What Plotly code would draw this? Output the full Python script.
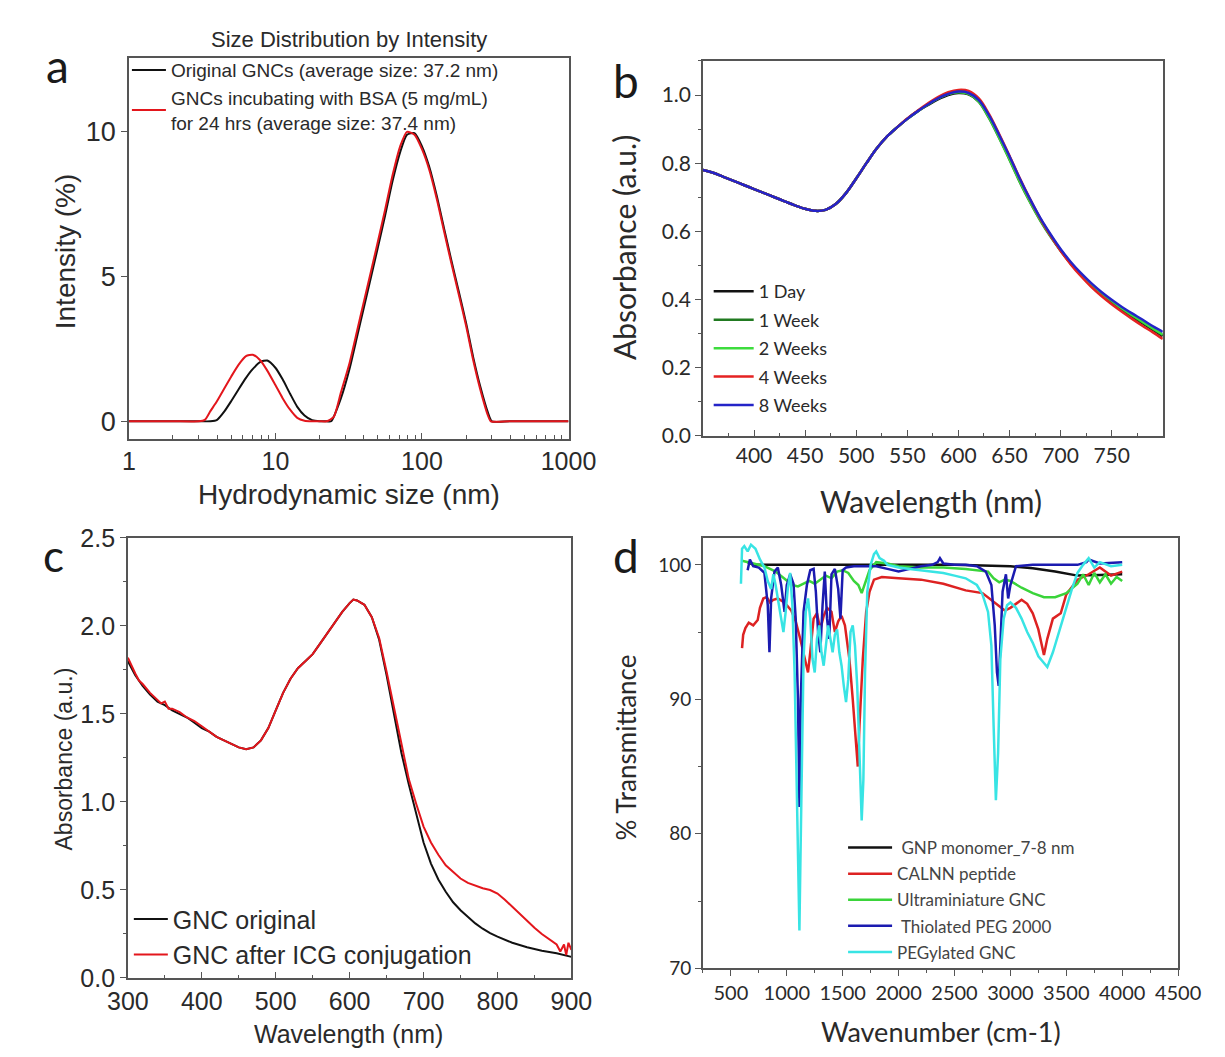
import plotly.graph_objects as go

W, H = 1225, 1057

# ---- panel a : DLS size distribution ----
size_black = [1, 2, 3, 3.6, 4, 4.5, 5, 5.6, 6.3, 7, 7.9, 8.8, 10, 11.2, 12.6, 14.1, 15.8, 17.8, 20,
              22.4, 24, 28, 32, 36, 40, 45, 50, 56, 63, 71, 79, 89, 100, 112, 126, 141, 158, 178,
              200, 224, 250, 282, 300, 400, 1000]
int_black = [0, 0, 0, 0, 0.05, 0.35, 0.7, 1.1, 1.5, 1.8, 2.05, 2.1, 1.85, 1.45, 0.95, 0.5, 0.2, 0.04, 0,
             0, 0, 0.8, 1.8, 2.9, 3.9, 5.0, 6.0, 7.1, 8.3, 9.3, 9.9, 9.95, 9.5, 8.8, 7.8, 6.7, 5.6, 4.5,
             3.4, 2.2, 1.2, 0.3, 0, 0, 0]
size_red = [1, 2, 3, 3.3, 3.6, 4, 4.5, 5, 5.6, 6.3, 7, 7.9, 8.8, 10, 11.2, 12.6, 14.1, 15.8, 17.8,
            20, 22.4, 25, 28, 32, 36, 40, 45, 50, 56, 63, 71, 79, 89, 100, 112, 126, 141, 158, 178,
            200, 224, 250, 282, 295, 400, 1000]
int_red = [0, 0, 0, 0.05, 0.35, 0.7, 1.15, 1.55, 1.95, 2.25, 2.3, 2.1, 1.75, 1.25, 0.8, 0.4, 0.12, 0.02, 0,
           0, 0, 0.15, 1.0, 2.0, 3.1, 4.1, 5.2, 6.2, 7.3, 8.5, 9.5, 10.0, 9.9, 9.4, 8.7, 7.7, 6.6, 5.5, 4.4,
           3.3, 2.1, 1.1, 0.2, 0, 0, 0]
size_ticks = [1, 10, 100, 1000]
size_minor = [2, 3, 4, 5, 6, 7, 8, 9, 20, 30, 40, 50, 60, 70, 80, 90, 200, 300, 400, 500, 600, 700, 800, 900]

# ---- panel b : stability UV-vis ----
wl_b = [350, 360, 370, 380, 390, 400, 410, 420, 430, 440, 450, 460, 470, 480, 490, 500, 510, 520, 530,
        540, 550, 560, 570, 580, 590, 600, 610, 620, 630, 640, 650, 660, 670, 680, 690, 700, 710, 720,
        730, 740, 750, 760, 770, 780, 790, 800]
abs_1day = [0.780, 0.772, 0.760, 0.748, 0.736, 0.724, 0.712, 0.700, 0.688, 0.676, 0.666, 0.660, 0.663,
            0.680, 0.712, 0.755, 0.800, 0.843, 0.878, 0.905, 0.930, 0.952, 0.970, 0.987, 1.000, 1.006,
            1.002, 0.982, 0.937, 0.880, 0.818, 0.752, 0.692, 0.637, 0.589, 0.545, 0.506, 0.472, 0.442,
            0.415, 0.391, 0.369, 0.349, 0.330, 0.311, 0.292]
abs_1week = [0.780, 0.772, 0.760, 0.748, 0.736, 0.724, 0.712, 0.700, 0.688, 0.676, 0.666, 0.660, 0.663,
             0.680, 0.712, 0.755, 0.800, 0.843, 0.878, 0.905, 0.930, 0.952, 0.972, 0.990, 1.003, 1.008,
             1.003, 0.980, 0.932, 0.873, 0.810, 0.745, 0.686, 0.632, 0.585, 0.543, 0.505, 0.472, 0.443,
             0.417, 0.394, 0.372, 0.352, 0.333, 0.314, 0.295]
abs_2weeks = [0.780, 0.772, 0.760, 0.748, 0.736, 0.724, 0.712, 0.700, 0.688, 0.676, 0.666, 0.660, 0.663,
              0.680, 0.712, 0.755, 0.800, 0.843, 0.878, 0.905, 0.930, 0.952, 0.972, 0.990, 1.003, 1.009,
              1.004, 0.981, 0.934, 0.875, 0.812, 0.747, 0.688, 0.634, 0.587, 0.545, 0.507, 0.474, 0.445,
              0.419, 0.396, 0.374, 0.354, 0.335, 0.316, 0.297]
abs_4weeks = [0.780, 0.772, 0.760, 0.748, 0.736, 0.724, 0.712, 0.700, 0.688, 0.676, 0.666, 0.660, 0.663,
              0.680, 0.712, 0.755, 0.800, 0.843, 0.878, 0.905, 0.931, 0.954, 0.975, 0.994, 1.008, 1.015,
              1.012, 0.990, 0.944, 0.885, 0.822, 0.756, 0.695, 0.638, 0.588, 0.543, 0.503, 0.468, 0.437,
              0.410, 0.386, 0.364, 0.343, 0.323, 0.304, 0.284]
abs_8weeks = [0.780, 0.772, 0.760, 0.748, 0.736, 0.724, 0.712, 0.700, 0.688, 0.676, 0.666, 0.660, 0.663,
              0.680, 0.712, 0.755, 0.800, 0.843, 0.878, 0.905, 0.930, 0.952, 0.972, 0.990, 1.003, 1.010,
              1.006, 0.985, 0.940, 0.882, 0.820, 0.755, 0.695, 0.640, 0.592, 0.548, 0.510, 0.477, 0.448,
              0.422, 0.399, 0.378, 0.359, 0.341, 0.322, 0.305]

# ---- panel c : ICG conjugation UV-vis ----
wl_c_black = [300, 305, 310, 320, 330, 340, 350, 360, 370, 380, 390, 400, 410, 420, 430, 440, 450, 460,
              470, 480, 490, 500, 510, 520, 530, 540, 550, 560, 570, 580, 590, 600, 605, 610, 620, 630,
              640, 650, 660, 670, 680, 690, 700, 710, 720, 730, 740, 750, 760, 770, 780, 790, 800, 820,
              840, 860, 880, 890, 900]
abs_c_black = [1.80, 1.76, 1.72, 1.66, 1.61, 1.57, 1.55, 1.52, 1.50, 1.48, 1.45, 1.42, 1.40, 1.37, 1.35,
               1.33, 1.31, 1.30, 1.31, 1.35, 1.42, 1.52, 1.62, 1.70, 1.76, 1.80, 1.84, 1.90, 1.96, 2.02,
               2.08, 2.13, 2.15, 2.145, 2.12, 2.05, 1.92, 1.72, 1.50, 1.28, 1.10, 0.93, 0.77, 0.65, 0.56,
               0.49, 0.43, 0.385, 0.345, 0.31, 0.28, 0.255, 0.235, 0.20, 0.175, 0.155, 0.14, 0.13, 0.12]
wl_c_red = [300, 305, 310, 315, 320, 330, 340, 345, 350, 355, 360, 370, 380, 390, 400, 410, 420, 430,
            440, 450, 460, 470, 480, 490, 500, 510, 520, 530, 540, 550, 560, 570, 580, 590, 600, 605,
            610, 620, 630, 640, 650, 660, 670, 680, 690, 700, 710, 720, 730, 740, 750, 760, 770, 780,
            790, 800, 810, 820, 830, 840, 850, 860, 870, 875, 880, 885, 890, 893, 896, 900]
abs_c_red = [1.82, 1.77, 1.73, 1.69, 1.67, 1.62, 1.58, 1.56, 1.57, 1.53, 1.53, 1.51, 1.48, 1.46, 1.43,
             1.40, 1.37, 1.35, 1.33, 1.31, 1.30, 1.31, 1.35, 1.42, 1.52, 1.62, 1.70, 1.76, 1.80, 1.84,
             1.90, 1.96, 2.02, 2.08, 2.13, 2.15, 2.145, 2.12, 2.05, 1.93, 1.74, 1.53, 1.32, 1.13, 0.99,
             0.86, 0.77, 0.70, 0.64, 0.60, 0.565, 0.54, 0.525, 0.51, 0.50, 0.48, 0.445, 0.405, 0.365,
             0.32, 0.285, 0.25, 0.22, 0.20, 0.19, 0.15, 0.19, 0.13, 0.20, 0.16]

# ---- panel d : FTIR ----
wn_black = [650, 700, 1000, 1500, 2000, 2500, 3000, 3200, 3400, 3600, 3800, 4000]
tr_black = [100.2, 100, 100, 100, 100, 100, 99.9, 99.75, 99.5, 99.2, 99.25, 99.3]
wn_red = [600, 610, 630, 660, 700, 740, 760, 790, 820, 850, 880, 920, 960, 1000, 1040, 1080, 1120, 1160,
          1190, 1210, 1240, 1270, 1300, 1330, 1360, 1400, 1430, 1460, 1490, 1520, 1560, 1590, 1620, 1635,
          1650, 1680, 1710, 1740, 1780, 1850, 2000, 2200, 2400, 2600, 2750, 2900, 2950, 3000, 3100, 3150,
          3200, 3250, 3300, 3330, 3380, 3450, 3500, 3600, 3700, 3800, 3900, 4000]
tr_red = [93.8, 94.8, 95.3, 95.7, 95.5, 95.9, 96.8, 97.5, 97.6, 97.2, 97.4, 97.5, 97.3, 97.0, 96.6, 95.8,
          94.5, 93.0, 92.0, 93.5, 96.0, 96.4, 95.2, 96.2, 96.8, 96.5, 95.0, 95.8, 96.2, 95.5, 93.0, 90.0,
          86.5, 85.0, 88.0, 93.0, 96.5, 98.0, 98.9, 99.1, 99.0, 98.9, 98.6, 98.1, 97.9, 96.9, 96.6, 96.8,
          97.4, 97.1, 96.4, 95.2, 93.3, 94.5, 96.0, 96.4, 97.8, 98.9, 99.3, 99.8, 99.2, 99.5]
wn_green = [600, 700, 800, 900, 1000, 1050, 1100, 1150, 1200, 1250, 1300, 1350, 1400, 1450, 1500, 1550,
            1600, 1640, 1670, 1700, 1740, 1800, 1900, 2000, 2200, 2400, 2600, 2800, 2850, 2900, 2950,
            3000, 3100, 3200, 3300, 3400, 3500, 3600, 3650, 3700, 3750, 3800, 3850, 3900, 3950, 4000]
tr_green = [100.3, 100.1, 99.9, 99.5, 98.8, 98.5, 98.4, 98.6, 98.8, 98.6, 98.9, 99.2, 99.0, 99.5, 99.6,
            99.4, 98.8, 98.5, 97.9, 98.6, 99.6, 100.2, 100.1, 99.9, 99.8, 99.8, 99.7, 99.5, 99.0, 98.7,
            98.9, 98.8, 98.3, 97.9, 97.6, 97.6, 97.9, 98.6, 99.3, 98.5, 99.4, 98.7, 99.3, 98.6, 99.1, 98.8]
wn_blue = [650, 670, 700, 750, 800, 830, 845, 860, 890, 920, 950, 980, 1000, 1030, 1060, 1080, 1100, 1113,
           1125, 1150, 1180, 1210, 1240, 1260, 1280, 1300, 1320, 1340, 1360, 1380, 1400, 1430, 1460, 1480,
           1500, 1530, 1600, 1700, 1800, 1900, 2000, 2100, 2200, 2300, 2350, 2370, 2400, 2500, 2600, 2700,
           2780, 2830, 2860, 2880, 2895, 2910, 2930, 2960, 2980, 3000, 3050, 3200, 3400, 3600, 3680, 3700,
           3800, 4000]
tr_blue = [99.6, 100.4, 99.9, 99.8, 99.4, 97.0, 93.5, 97.5, 99.5, 99.8, 98.5, 96.5, 98.5, 99.3, 98.6, 96.0,
           90.0, 82.0, 90.0, 96.5, 98.5, 99.6, 99.7, 98.0, 95.0, 93.5, 97.0, 99.5, 96.0, 94.5, 99.3, 99.7,
           98.2, 96.0, 99.6, 99.8, 99.9, 99.9, 99.9, 99.7, 99.5, 99.7, 99.9, 100.0, 100.2, 100.5, 100.1,
           100.0, 100.0, 99.9, 99.5, 98.5, 95.5, 92.0, 91.0, 94.0, 98.0, 99.3, 97.5, 98.5, 99.9, 100.0,
           100.0, 100.0, 100.2, 100.4, 100.1, 100.2]
wn_cyan = [590, 600, 620, 650, 680, 720, 760, 800, 830, 860, 880, 900, 930, 950, 970, 990, 1010, 1030, 1050,
           1070, 1090, 1105, 1113, 1122, 1135, 1150, 1170, 1190, 1210, 1230, 1250, 1270, 1290, 1310, 1330,
           1350, 1370, 1390, 1410, 1430, 1450, 1470, 1490, 1510, 1530, 1550, 1570, 1590, 1610, 1630, 1650,
           1670, 1685, 1700, 1720, 1750, 1780, 1800, 1830, 1870, 1900, 2000, 2100, 2200, 2300, 2400, 2500,
           2600, 2700, 2750, 2800, 2830, 2850, 2870, 2890, 2910, 2940, 2970, 3000, 3050, 3100, 3150, 3200,
           3250, 3300, 3330, 3380, 3450, 3500, 3550, 3600, 3650, 3700, 3750, 3800, 3900, 4000]
tr_cyan = [98.6, 101.2, 101.4, 101.0, 101.5, 101.2, 100.4, 99.8, 98.8, 98.2, 99.3, 98.5, 97.0, 96.0, 95.0,
           96.5, 98.3, 99.4, 97.0, 92.0, 84.0, 76.0, 72.8, 78.0, 86.0, 93.0, 96.5, 97.5, 96.0, 93.0, 92.0,
           94.5, 95.5, 93.5, 92.5, 94.0, 95.5, 94.5, 93.5, 94.8, 95.2, 93.5, 92.5, 91.0, 89.8, 91.5, 95.0,
           95.5, 94.0, 91.0, 86.0, 81.0, 84.0, 92.0, 98.0, 100.0, 100.8, 101.0, 100.5, 100.3, 100.0, 99.8,
           99.7, 99.6, 99.5, 99.4, 99.2, 99.0, 98.5, 97.8, 96.5, 94.0, 88.0, 82.5, 86.0, 93.0, 96.0, 97.0,
           97.2, 96.8, 96.0, 95.0, 94.2, 93.2, 92.7, 92.4, 93.5, 95.5, 96.8, 98.2, 99.4, 100.0, 100.5, 99.8,
           100.2, 99.9, 100.0]

ARIAL = "Liberation Sans, Arial, sans-serif"
CALIBRI = "Lato, Open Sans, sans-serif"
AXC = "#555555"
TXT = "#2a2a2a"


def px(x):
    return x / W


def py(y):
    return 1 - y / H


fig = go.Figure()

# panel a
fig.add_trace(go.Scatter(x=size_black, y=int_black, name="Original GNCs (average size: 37.2 nm)",
                         mode="lines", line=dict(color="#111111", width=2, shape="spline", smoothing=0.6),
                         xaxis="x", yaxis="y", legend="legend"))
fig.add_trace(go.Scatter(x=size_red, y=int_red,
                         name="GNCs incubating with BSA (5 mg/mL)<br>for 24 hrs (average size: 37.4 nm)",
                         mode="lines", line=dict(color="#e3161c", width=2, shape="spline", smoothing=0.6),
                         xaxis="x", yaxis="y", legend="legend"))

# panel b
b_series = [("1 Day", abs_1day, "#111111"), ("1 Week", abs_1week, "#217a21"),
            ("2 Weeks", abs_2weeks, "#3ddc3d"), ("4 Weeks", abs_4weeks, "#e52222"),
            ("8 Weeks", abs_8weeks, "#2424c8")]
for i, (nm, vals, col) in enumerate(b_series):
    fig.add_trace(go.Scatter(x=wl_b, y=vals, name=nm, mode="lines",
                             line=dict(color=col, width=2.5, shape="spline"),
                             xaxis="x2", yaxis="y2", legend="legend2", legendgroup="b%d" % i))

# panel c
fig.add_trace(go.Scatter(x=wl_c_black, y=abs_c_black, name="GNC original", mode="lines",
                         line=dict(color="#111111", width=2), xaxis="x3", yaxis="y3", legend="legend3"))
fig.add_trace(go.Scatter(x=wl_c_red, y=abs_c_red, name="GNC after ICG conjugation", mode="lines",
                         line=dict(color="#e3161c", width=2), xaxis="x3", yaxis="y3", legend="legend3"))

# panel d
d_series = [(" GNP monomer_7-8 nm", wn_black, tr_black, "#111111"),
            ("CALNN peptide", wn_red, tr_red, "#dd2222"),
            ("Ultraminiature GNC", wn_green, tr_green, "#3ad43a"),
            (" Thiolated PEG 2000", wn_blue, tr_blue, "#1b1bb0"),
            ("PEGylated GNC", wn_cyan, tr_cyan, "#38e4e4")]
for i, (nm, xs, ys, col) in enumerate(d_series):
    fig.add_trace(go.Scatter(x=xs, y=ys, name=nm, mode="lines",
                             line=dict(color=col, width=2.5),
                             xaxis="x4", yaxis="y4", legend="legend4", legendgroup="d%d" % i))


def axis(dom, anchor, font, size, **kw):
    d = dict(domain=dom, anchor=anchor, showline=True, mirror=True, linecolor=AXC, linewidth=1.5,
             showgrid=False, zeroline=False, ticklen=6, tickwidth=1.2, tickcolor=AXC,
             tickfont=dict(family=font, size=size, color=TXT))
    d.update(kw)
    return d


fig.update_layout(
    width=W, height=H, margin=dict(l=0, r=0, t=0, b=0),
    paper_bgcolor="white", plot_bgcolor="white", showlegend=True,
    xaxis=axis([px(104), px(562)], "y", ARIAL, 25, type="log", range=[0, 3],
               tickvals=size_ticks, ticktext=[str(v) for v in size_ticks], ticks="inside",
               minor=dict(ticks="inside", ticklen=4, tickcolor=AXC, tickvals=size_minor)),
    yaxis=axis([py(428), py(37)], "x", ARIAL, 27, range=[-0.6, 12.55], tickvals=[0, 5, 10],
               ticks="outside"),
    xaxis2=axis([px(702), px(1181)], "y2", CALIBRI, 21, range=[350, 800],
                tickvals=[400, 450, 500, 550, 600, 650, 700, 750], ticks="inside",
                minor=dict(ticks="inside", ticklen=3, tickcolor=AXC, dtick=25)),
    yaxis2=axis([py(425), py(40)], "x2", CALIBRI, 21, range=[0, 1.1], dtick=0.2, tickformat=".1f",
                ticks="outside", minor=dict(ticks="outside", ticklen=3, tickcolor=AXC, dtick=0.1)),
    xaxis3=axis([px(103), px(565)], "y3", ARIAL, 25, range=[300, 900], dtick=100, ticks="inside",
                minor=dict(ticks="inside", ticklen=3, tickcolor=AXC, dtick=50)),
    yaxis3=axis([py(982), py(530)], "x3", ARIAL, 25, range=[0, 2.5], dtick=0.5, tickformat=".1f",
                ticks="outside", minor=dict(ticks="outside", ticklen=3, tickcolor=AXC, dtick=0.25)),
    xaxis4=axis([px(702), px(1197)], "y4", CALIBRI, 20, range=[250, 4500],
                tickvals=[500, 1000, 1500, 2000, 2500, 3000, 3500, 4000, 4500], ticks="outside",
                minor=dict(ticks="outside", ticklen=3, tickcolor=AXC, dtick=250, tick0=250)),
    yaxis4=axis([py(972), py(530)], "x4", CALIBRI, 19, range=[70, 102], tickvals=[70, 80, 90, 100],
                ticks="outside", minor=dict(ticks="outside", ticklen=3, tickcolor=AXC, dtick=5, tick0=70)),
    legend=dict(x=px(102), y=py(30), xanchor="left", yanchor="top", bgcolor="rgba(0,0,0,0)",
                font=dict(family=ARIAL, size=19, color=TXT), tracegroupgap=0, itemwidth=34),
    legend2=dict(x=px(708), y=py(258), xanchor="left", yanchor="top", bgcolor="rgba(0,0,0,0)",
                 font=dict(family=CALIBRI, size=18, color=TXT), tracegroupgap=2, itemwidth=40),
    legend3=dict(x=px(104), y=py(898), xanchor="left", yanchor="top", bgcolor="rgba(0,0,0,0)",
                 font=dict(family=ARIAL, size=25, color=TXT), itemwidth=34),
    legend4=dict(x=px(848), y=py(830), xanchor="left", yanchor="top", bgcolor="rgba(0,0,0,0)",
                 font=dict(family=CALIBRI, size=17, color="#444444"), tracegroupgap=1, itemwidth=44),
)

notes = [
    ("a", 30, 45, 46, CALIBRI, 0),
    ("Size Distribution by Intensity", 333, 18, 22, ARIAL, 0),
    ("Intensity (%)", 38, 235, 28, ARIAL, -90),
    ("Hydrodynamic size (nm)", 333, 485, 28, ARIAL, 0),
    ("b", 622, 60, 46, CALIBRI, 0),
    ("Absorbance (a.u.)", 620, 232, 30, CALIBRI, -90),
    ("Wavelength (nm)", 940, 492, 30, CALIBRI, 0),
    ("c", 25, 547, 44, CALIBRI, 0),
    ("Absorbance (a.u.)", 36, 757, 23, ARIAL, -90),
    ("Wavelength (nm)", 333, 1040, 25, ARIAL, 0),
    ("d", 622, 548, 46, CALIBRI, 0),
    ("% Transmittance", 622, 745, 26, CALIBRI, -90),
    ("Wavenumber (cm-1)", 950, 1037, 27, CALIBRI, 0),
]
for txt, x, y, size, fam, ang in notes:
    fig.add_annotation(text=txt, x=px(x), y=py(y), xref="paper", yref="paper", showarrow=False,
                       xanchor="center", yanchor="middle", textangle=ang,
                       font=dict(family=fam, size=size, color="#1a1a1a" if len(txt) == 1 else TXT))

fig.write_html("out.html")
